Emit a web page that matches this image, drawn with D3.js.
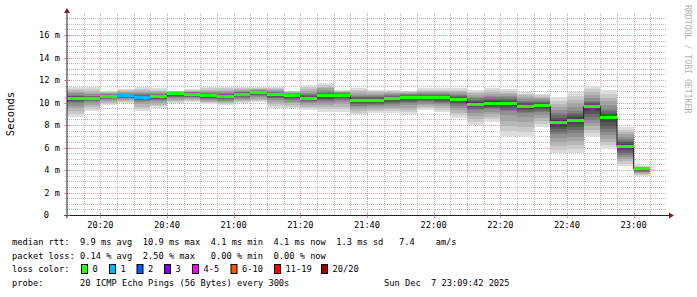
<!DOCTYPE html>
<html>
<head>
<meta charset="utf-8">
<script src="https://cdn.jsdelivr.net/npm/d3@7"></script>
<style>
  body { margin: 0; background: #fff; }
  text { font-family: "DejaVu Sans Mono", monospace; white-space: pre; }
</style>
</head>
<body>
<svg id="chart" width="697" height="297"></svg>
<script>
// Median RTT per 5 minute step (ms), starting 20:10
const medianRtt = [10.35, 10.35, 10.55, 10.58, 10.46, 10.52, 10.76, 10.7, 10.6, 10.55, 10.72, 10.9,
  10.7, 10.58, 10.4, 10.58, 10.58, 10.19, 10.22, 10.34, 10.46, 10.43, 10.43, 10.31,
  9.86, 9.9, 9.87, 9.63, 9.69, 8.18, 8.44, 9.63, 8.65, 6.1, 4.1];
// fastest / quartiles / slowest of the 20 pings in each step (ms)
const lowRtt = [8.74, 9.27, 9.78, 9.93, 9.27, 9.54, 9.93, 10.07, 9.84, 9.78, 9.93, 10.02,
  9.48, 9.48, 9.33, 9.19, 9.19, 8.95, 9.1, 9.04, 8.95, 9.33, 9.19, 8.65,
  8.0, 8.3, 7.02, 6.96, 7.85, 5.48, 5.54, 6.96, 5.9, 4.36, 3.45];
const q1Rtt = [9.9, 10.1, 10.3, 10.35, 10.15, 10.2, 10.45, 10.45, 10.3, 10.25, 10.4, 10.55,
  10.35, 10.2, 10.05, 10.15, 10.2, 9.7, 9.75, 9.85, 9.9, 10.0, 9.95, 9.7,
  9.3, 9.35, 9.2, 9.0, 9.1, 7.1, 7.2, 8.4, 7.3, 5.3, 3.85];
const q3Rtt = [10.7, 10.6, 10.75, 10.8, 10.75, 10.75, 10.9, 10.9, 10.85, 10.85, 10.95, 11.05,
  10.95, 10.8, 10.75, 10.95, 10.85, 10.6, 10.6, 10.65, 10.75, 10.75, 10.75, 10.7,
  10.4, 10.5, 10.5, 10.2, 10.2, 9.1, 9.3, 10.2, 9.5, 6.8, 4.2];
const highRtt = [11.35, 11.35, 11.02, 11.17, 11.35, 11.26, 11.05, 11.17, 11.35, 11.35, 11.35, 11.35,
  11.41, 11.05, 11.56, 11.76, 11.11, 11.26, 11.11, 11.11, 11.05, 11.26, 11.26, 11.26,
  11.11, 11.26, 11.17, 10.93, 10.76, 10.46, 10.96, 11.47, 11.11, 7.79, 4.36];
// lost pings per step (of 20)
const lostPings = [0, 0, 0, 1, 1, 0, 0, 0, 0, 0, 0, 0, 0, 0, 0, 0, 0, 0, 0, 0, 0, 0, 0, 0,
  0, 0, 0, 0, 0, 0, 0, 0, 0, 0, 0];

const lossLabels = ["0", "1", "2", "3", "4-5", "6-10", "11-19", "20/20"];
const lossColors = ["#26ff00", "#00b8ff", "#0059ff", "#7e00ff", "#ff00ff", "#ff5500", "#ff0000", "#a10000"];
const lossUpper = [0, 1, 2, 3, 5, 10, 19, 20];

const legendLines = [
  "median rtt:  9.9 ms avg  10.9 ms max  4.1 ms min  4.1 ms now  1.3 ms sd   7.4    am/s",
  "packet loss: 0.14 % avg  2.50 % max   0.00 % min  0.00 % now"
];
const probeText = "20 ICMP Echo Pings (56 Bytes) every 300s";
const stampText = "Sun Dec  7 23:09:42 2025";

const svg = d3.select("#chart");
const PINGS = 20;
const charW = 5.24;

const t0 = new Date(2025, 11, 7, 20, 10);
const t1 = new Date(2025, 11, 7, 23, 10);
const x = d3.scaleTime().domain([t0, t1]).range([67, 667]);
const y = d3.scaleLinear().domain([0, 200 / 11.25]).range([215, 15]);

const steps = d3.timeMinute.every(5).range(t0, t1).slice(0, medianRtt.length);
const stepEnd = t => d3.timeMinute.offset(t, 5);

// grid
const grid = svg.append("g");
const yMinor = d3.range(0.5, 17.6, 0.5).filter(v => v % 2 !== 0);
const yMajor = d3.range(2, 17, 2);
const xAll = d3.timeMinute.every(5).range(d3.timeMinute.offset(t0, 5), t1);
const xMinor = xAll.filter(t => t.getMinutes() % 20 !== 0);
const xMajor = xAll.filter(t => t.getMinutes() % 20 === 0);
const gridCol = "rgba(143,143,143,0.6)";
const mgridCol = "rgba(222,79,79,0.55)";

grid.selectAll(".ymin").data(yMinor).join("line")
  .attr("x1", 65).attr("x2", 667)
  .attr("y1", d => Math.round(y(d)) + 0.5).attr("y2", d => Math.round(y(d)) + 0.5)
  .attr("stroke", gridCol).attr("stroke-dasharray", "1,1");
grid.selectAll(".xmin").data(xMinor).join("line")
  .attr("x1", d => Math.round(x(d)) + 0.5).attr("x2", d => Math.round(x(d)) + 0.5)
  .attr("y1", 13).attr("y2", 217)
  .attr("stroke", gridCol).attr("stroke-dasharray", "1,1");
grid.selectAll(".ymaj").data(yMajor).join("line")
  .attr("x1", 65).attr("x2", 667)
  .attr("y1", d => Math.round(y(d)) + 0.5).attr("y2", d => Math.round(y(d)) + 0.5)
  .attr("stroke", mgridCol).attr("stroke-dasharray", "1,1");
grid.selectAll(".xmaj").data(xMajor).join("line")
  .attr("x1", d => Math.round(x(d)) + 0.5).attr("x2", d => Math.round(x(d)) + 0.5)
  .attr("y1", 13).attr("y2", 218)
  .attr("stroke", mgridCol).attr("stroke-dasharray", "1,1");

// smoke: 20 pings per step, drawn as nested pairs, darker towards the median
function pingValues(i) {
  const q = d3.scaleLinear().domain([0, 0.25, 0.5, 0.75, 1])
    .range([lowRtt[i], q1Rtt[i], medianRtt[i], q3Rtt[i], highRtt[i]]);
  return d3.range(PINGS).map(j => q(j / (PINGS - 1)));
}
const smoke = svg.append("g").attr("shape-rendering", "crispEdges");
const half = PINGS / 2;
steps.forEach((t, i) => {
  const p = pingValues(i);
  for (let k = 1; k <= half; k++) {
    const c = Math.floor(190 / half * (half - k)) + 50;
    const hex = "#" + d3.format("02x")(c).repeat(3);
    const top = y(p[PINGS - k]), bot = y(p[k - 1]);
    smoke.append("rect")
      .attr("x", x(t)).attr("width", x(stepEnd(t)) - x(t))
      .attr("y", top).attr("height", Math.max(0.5, bot - top))
      .attr("fill", hex);
  }
});

// black median step line
const linePts = steps.map((t, i) => [t, medianRtt[i]]);
linePts.push([stepEnd(steps[steps.length - 1]), medianRtt[medianRtt.length - 1]]);
svg.append("path")
  .attr("d", d3.line().x(d => x(d[0])).y(d => y(d[1])).curve(d3.curveStepAfter)(linePts))
  .attr("fill", "none").attr("stroke", "#202020").attr("stroke-width", 1);

// loss-coloured median bars
const lossColor = n => lossColors[lossUpper.findIndex(u => n <= u)];
svg.append("g").attr("shape-rendering", "crispEdges")
  .selectAll("rect").data(steps).join("rect")
  .attr("x", d => x(d)).attr("width", d => x(stepEnd(d)) - x(d))
  .attr("y", (d, i) => y(medianRtt[i]) - 1.5).attr("height", 3)
  .attr("fill", (d, i) => lossColor(lostPings[i]));

// axes
const axisCol = "#1f1f1f";
const arrowCol = "#801f1f";
svg.append("line").attr("x1", 67).attr("x2", 67).attr("y1", 218).attr("y2", 12)
  .attr("stroke", axisCol).attr("stroke-width", 1);
svg.append("line").attr("x1", 64).attr("x2", 670).attr("y1", 215.5).attr("y2", 215.5)
  .attr("stroke", axisCol).attr("stroke-width", 1);
svg.append("path").attr("d", "M64,13 L70,13 L67,8 Z").attr("fill", arrowCol);
svg.append("path").attr("d", "M669,212.5 L669,218.5 L674,215.5 Z").attr("fill", arrowCol);

// ticks on axes
svg.append("g").selectAll("line").data(xMajor).join("line")
  .attr("x1", d => Math.round(x(d)) + 0.5).attr("x2", d => Math.round(x(d)) + 0.5)
  .attr("y1", 213).attr("y2", 218).attr("stroke", mgridCol);
svg.append("g").selectAll("line").data(yMajor.concat([0])).join("line")
  .attr("x1", 64).attr("x2", 70)
  .attr("y1", d => Math.round(y(d)) + 0.5).attr("y2", d => Math.round(y(d)) + 0.5)
  .attr("stroke", mgridCol);

// tick labels
const lbl = svg.append("g").attr("font-size", "8.7px").attr("fill", "#000");
lbl.selectAll(".yl").data(yMajor.concat([0])).join("text")
  .attr("x", d => d === 0 ? 49 : 60).attr("y", d => y(d) + 3.2)
  .attr("text-anchor", "end")
  .text(d => d === 0 ? "0" : d + " m");
lbl.selectAll(".xl").data(xMajor.filter(t => t < d3.timeMinute.offset(t1, -5))).join("text")
  .attr("x", d => x(d)).attr("y", 228)
  .attr("text-anchor", "middle")
  .text(d3.timeFormat("%H:%M"));

// axis title and watermark
svg.append("text").attr("transform", "translate(14,114) rotate(-90)")
  .attr("text-anchor", "middle").attr("font-size", "10.5px").attr("fill", "#000")
  .text("Seconds");
svg.append("text").attr("transform", "translate(685,5) rotate(90)")
  .attr("font-size", "8.2px").attr("fill", "#b4b4b4")
  .text("RRDTOOL / TOBI OETIKER");

// legend
const leg = svg.append("g").attr("font-size", "8.7px").attr("fill", "#000");
const legX = 12;
const rowY = [245, 258.7, 272.4, 286];
legendLines.forEach((s, i) => leg.append("text").attr("x", legX).attr("y", rowY[i]).text(s));
leg.append("text").attr("x", legX).attr("y", rowY[2]).text("loss color:");
const boxX = [81, 109, 136.5, 164, 192, 230.5, 274, 321];
lossLabels.forEach((l, i) => {
  leg.append("rect").attr("x", boxX[i] + 0.5).attr("y", 264.5).attr("width", 6).attr("height", 9)
    .attr("fill", lossColors[i]).attr("stroke", "#000").attr("stroke-width", 1);
  leg.append("text").attr("x", boxX[i] + 11.5).attr("y", rowY[2]).text(l);
});
leg.append("text").attr("x", legX).attr("y", rowY[3]).text("probe:");
leg.append("text").attr("x", legX + 13 * charW).attr("y", rowY[3]).text(probeText);
leg.append("text").attr("x", legX + 71 * charW).attr("y", rowY[3]).text(stampText);
</script>
</body>
</html>
